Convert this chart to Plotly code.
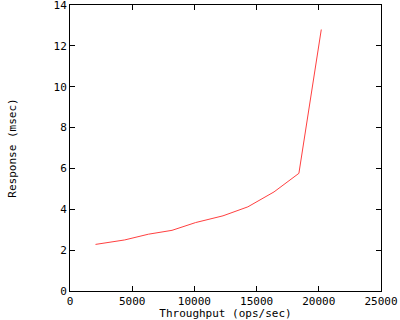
import plotly.graph_objects as go

throughput = [2050, 4400, 6300, 8200, 10100, 12300, 14300, 16400, 18400, 20200]
response = [2.28, 2.5, 2.78, 2.97, 3.35, 3.68, 4.12, 4.85, 5.76, 12.8]

x_ticks = [0, 5000, 10000, 15000, 20000, 25000]
y_ticks = [0, 2, 4, 6, 8, 10, 12, 14]

font = dict(family="DejaVu Sans Mono", size=11, color="black")

fig = go.Figure()
fig.add_trace(go.Scatter(x=throughput, y=response, mode="lines",
                         line=dict(color="#ff4040", width=1), showlegend=False))

axis_common = dict(showline=True, linecolor="black", linewidth=1, mirror="ticks",
                   ticks="inside", ticklen=5, tickcolor="black", tickwidth=1,
                   showgrid=False, zeroline=False, tickfont=font,
                   ticklabeloverflow="allow", automargin=False)

fig.update_layout(
    width=400, height=320,
    margin=dict(l=70, r=19, t=5, b=29),
    paper_bgcolor="white", plot_bgcolor="white",
    font=font,
    xaxis=dict(range=[0, 25000], tickvals=x_ticks, ticktext=[str(v) for v in x_ticks],
               title=dict(text="Throughput (ops/sec)", font=font, standoff=2), **axis_common),
    yaxis=dict(range=[0, 14], tickvals=y_ticks, ticktext=[str(v) for v in y_ticks],
               title=dict(text="Response (msec)", font=font, standoff=34), **axis_common),
)

fig.write_html("out.html", config={"displayModeBar": False},
               post_script="document.body.style.margin='0px';document.body.style.overflow='hidden';")
